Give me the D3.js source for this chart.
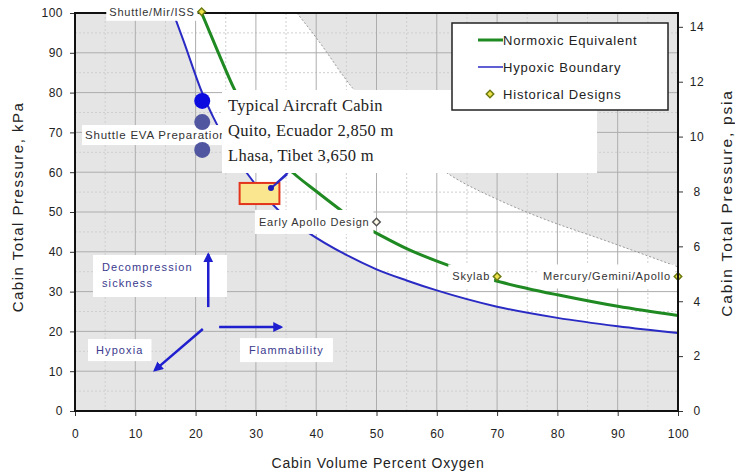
<!DOCTYPE html>
<html>
<head>
<meta charset="utf-8">
<script src="https://cdn.jsdelivr.net/npm/d3@7"></script>
<style>
  html, body { margin: 0; padding: 0; background: #fff; }
  svg { display: block; font-family: "Liberation Sans", Arial, sans-serif; }
</style>
</head>
<body>
<svg id="chart" width="735" height="475"></svg>
<script>
// Axis ticks
const o2Ticks = d3.range(0, 101, 10);
const kpaTicks = d3.range(0, 101, 10);
const psiTicks = d3.range(0, 15, 2);

// Normoxic equivalent curve (percent O2, kPa)
const normoxicO2  = [21, 23.5, 26.5, 30, 33, 36.2, 40, 43.6, 47, 50.6, 55, 61.7, 69.3, 75, 80, 90, 100];
const normoxicKPa = [100, 91, 80.6, 71, 64.5, 59.8, 55.2, 51, 47.2, 44.2, 40.8, 36.7, 32.9, 30.8, 29.2, 26.3, 24];

// Hypoxic boundary curve
const hypoxicO2  = [16.3, 18, 21.1, 22.9, 25.5, 28.5, 33.7, 38.5, 45, 50, 55, 60, 70, 80, 90, 100];
const hypoxicKPa = [100, 93, 79.9, 73.9, 66.5, 59.8, 50.5, 45, 39.2, 35.6, 32.8, 30.3, 26.2, 23.4, 21.3, 19.6];

// Flammability limit (edge of the upper-right shaded region)
const flammO2  = [36.8, 40, 46, 54, 62.2, 70, 77, 88, 100];
const flammKPa = [100, 93.8, 81.2, 69, 59.3, 53.2, 48.7, 42.8, 36.2];

// Historical spacecraft designs
const designNames = ["Shuttle/Mir/ISS", "Early Apollo Design", "Skylab", "Mercury/Gemini/Apollo"];
const designO2    = [21, 50, 70, 100];
const designKPa   = [100.3, 47.5, 33.8, 33.8];

// Shuttle EVA preparation atmospheres
const evaO2  = [21.1, 21.1, 21.1];
const evaKPa = [77.9, 72.6, 65.6];

// Exploration atmosphere design box and its point
const boxO2  = [27.3, 33.9];
const boxKPa = [52.0, 57.3];
const boxPointO2 = 32.5, boxPointKPa = 56.0;

const cabinLines = ["Typical Aircraft Cabin", "Quito, Ecuador 2,850 m", "Lhasa, Tibet 3,650 m"];

const KPA_PER_PSI = 6.894757;

const svg = d3.select("#chart");
const x = d3.scaleLinear().domain([0, 100]).range([75, 678]);
const y = d3.scaleLinear().domain([0, 100]).range([411, 13]);
const yPsi = d3.scaleLinear().domain([0, 100 / KPA_PER_PSI]).range([411, 13]);

const zip = (a, b) => a.map((v, i) => [v, b[i]]);
const line = d3.line().x(d => x(d[0])).y(d => y(d[1])).curve(d3.curveMonotoneX);

const defs = svg.append("defs");
defs.append("clipPath").attr("id", "plotClip")
  .append("rect").attr("x", x(0)).attr("y", y(100)).attr("width", x(100) - x(0)).attr("height", y(0) - y(100));
const plot = svg.append("g").attr("clip-path", "url(#plotClip)");

// Background and shaded regions
plot.append("rect").attr("x", x(0)).attr("y", y(100)).attr("width", x(100) - x(0)).attr("height", y(0) - y(100)).attr("fill", "#fff");

const hyp = zip(hypoxicO2, hypoxicKPa);
plot.append("path")
  .attr("d", line(hyp) + `L${x(100)},${y(0)}L${x(0)},${y(0)}L${x(0)},${y(100)}Z`)
  .attr("fill", "#e5e5e5");

const fl = zip(flammO2, flammKPa);
plot.append("path")
  .attr("d", line(fl) + `L${x(100)},${y(100)}Z`)
  .attr("fill", "#e5e5e5");

// Grid
const minor = d3.range(5, 100, 10);
plot.selectAll(".vminor").data(minor).join("line")
  .attr("x1", d => x(d)).attr("x2", d => x(d)).attr("y1", y(0)).attr("y2", y(100))
  .attr("stroke", "#cfcfcf").attr("stroke-width", 1).attr("stroke-dasharray", "2,2");
plot.selectAll(".hminor").data(minor).join("line")
  .attr("y1", d => y(d)).attr("y2", d => y(d)).attr("x1", x(0)).attr("x2", x(100))
  .attr("stroke", "#cfcfcf").attr("stroke-width", 1).attr("stroke-dasharray", "2,2");
plot.selectAll(".vmajor").data(o2Ticks).join("line")
  .attr("x1", d => x(d)).attr("x2", d => x(d)).attr("y1", y(0)).attr("y2", y(100))
  .attr("stroke", "#adadad").attr("stroke-width", 1);
plot.selectAll(".hmajor").data(kpaTicks).join("line")
  .attr("y1", d => y(d)).attr("y2", d => y(d)).attr("x1", x(0)).attr("x2", x(100))
  .attr("stroke", "#adadad").attr("stroke-width", 1);

// Flammability edge
plot.append("path").attr("d", line(fl)).attr("fill", "none")
  .attr("stroke", "#9a9a9a").attr("stroke-width", 1).attr("stroke-dasharray", "2,2");

// Curves
plot.append("path").attr("d", line(hyp)).attr("fill", "none")
  .attr("stroke", "#2a2ac4").attr("stroke-width", 2);
plot.append("path").attr("d", line(zip(normoxicO2, normoxicKPa))).attr("fill", "none")
  .attr("stroke", "#1f8a22").attr("stroke-width", 3);

// Design box with its point and leader
plot.append("line")
  .attr("x1", x(boxPointO2)).attr("y1", y(boxPointKPa)).attr("x2", x(37.5)).attr("y2", y(63))
  .attr("stroke", "#2a2ac4").attr("stroke-width", 2);
plot.append("rect")
  .attr("x", x(boxO2[0])).attr("y", y(boxKPa[1]))
  .attr("width", x(boxO2[1]) - x(boxO2[0])).attr("height", y(boxKPa[0]) - y(boxKPa[1]))
  .attr("fill", "#fbe690").attr("stroke", "#e2351c").attr("stroke-width", 2);
plot.append("line")
  .attr("x1", x(boxPointO2)).attr("y1", y(boxPointKPa)).attr("x2", x(35.2)).attr("y2", y(59.5))
  .attr("stroke", "#2a2ac4").attr("stroke-width", 2);
plot.append("circle").attr("cx", x(boxPointO2)).attr("cy", y(boxPointKPa)).attr("r", 3).attr("fill", "#1a1ab8");

// Label with white background
function label(g, text, px, py, anchor, opts) {
  const o = Object.assign({ size: 11, ls: 0.8, fill: "#333", padX: 4, padY: 12, weight: "normal" }, opts || {});
  const grp = g.append("g");
  const bg = grp.append("rect").attr("fill", "#fff");
  const t = grp.append("text").attr("x", px).attr("y", py).attr("dy", "0.35em")
    .attr("text-anchor", anchor).attr("font-size", o.size).attr("letter-spacing", o.ls)
    .attr("font-weight", o.weight).attr("fill", o.fill).text(text);
  const b = t.node().getBBox();
  bg.attr("x", b.x - o.padX).attr("y", py - o.padY).attr("width", b.width + 2 * o.padX).attr("height", 2 * o.padY);
  return grp;
}

const labels = svg.append("g");

// Shuttle EVA label sits under the dots and is cut by the cabin box
label(labels, "Shuttle EVA Preparation", 85, y(evaKPa[1]) + 13, "start", { padY: 10, padX: 3, size: 11.5 });

// Cabin reference text box
const cab = svg.append("g");
cab.append("rect").attr("x", 222).attr("y", 90).attr("width", 375).attr("height", 83).attr("fill", "#fff");
cab.selectAll("text").data(cabinLines).join("text")
  .attr("x", 228).attr("y", (d, i) => 111 + i * 25)
  .attr("font-family", "'Liberation Serif', 'Times New Roman', serif")
  .attr("font-size", 16.5).attr("letter-spacing", 0.3).attr("fill", "#222")
  .text(d => d);

// EVA points
svg.selectAll(".eva").data(zip(evaO2, evaKPa)).join("circle")
  .attr("cx", d => x(d[0])).attr("cy", d => y(d[1])).attr("r", 8)
  .attr("fill", (d, i) => i === 0 ? "#0b0be0" : "#50569f");

// Historical design labels and markers
const designs = designNames.map((n, i) => ({ name: n, o2: designO2[i], kpa: designKPa[i] }));
designs.slice(1).forEach(d => label(labels, d.name, x(d.o2) - 7, y(d.kpa), "end", { padY: 12 }));

const diamond = d3.symbol().type(d3.symbolSquare).size(28);
svg.selectAll(".design").data(designs.slice(1)).join("path")
  .attr("d", diamond)
  .attr("transform", d => `translate(${x(d.o2)},${y(d.kpa)}) rotate(45)`)
  .attr("fill", d => d.name === "Early Apollo Design" ? "#fffbe8" : "#eee04a")
  .attr("stroke", d => d.name === "Early Apollo Design" ? "#555" : "#6b7a10").attr("stroke-width", 1.5);

// Risk direction arrows
defs.append("marker").attr("id", "arrowHead").attr("viewBox", "0 0 10 10")
  .attr("refX", 8).attr("refY", 5).attr("markerWidth", 4).attr("markerHeight", 4)
  .attr("orient", "auto").attr("markerUnits", "strokeWidth")
  .append("path").attr("d", "M0,0 L10,5 L0,10 Z").attr("fill", "#1f1fd0");

const arrowLabelStyle = { size: 11, ls: 1.1, fill: "#3a3a8e" };
const dcs = svg.append("g");
dcs.append("rect").attr("x", 93).attr("y", 255).attr("width", 134).attr("height", 42).attr("fill", "#fff");
dcs.selectAll("text").data(["Decompression", "sickness"]).join("text")
  .attr("x", 102).attr("y", (d, i) => 271 + i * 16)
  .attr("font-size", 11).attr("letter-spacing", 1.1).attr("fill", "#3a3a8e").text(d => d);
label(svg, "Hypoxia", 96, y(15.3), "start", Object.assign({ padX: 8, padY: 11 }, arrowLabelStyle));
label(svg, "Flammability", 249, y(15.3), "start", Object.assign({ padX: 9, padY: 12 }, arrowLabelStyle));

const arrows = [
  [[22.1, 26.1], [22.1, 39.4]],
  [[23.9, 21.1], [34.2, 21.1]],
  [[21.2, 20.6], [13.2, 10.2]]
];
svg.selectAll(".arrow").data(arrows).join("line")
  .attr("x1", d => x(d[0][0])).attr("y1", d => y(d[0][1]))
  .attr("x2", d => x(d[1][0])).attr("y2", d => y(d[1][1]))
  .attr("stroke", "#1f1fd0").attr("stroke-width", 2.5).attr("marker-end", "url(#arrowHead)");

// Legend
const lg = svg.append("g");
lg.append("rect").attr("x", 452).attr("y", 23).attr("width", 216).attr("height", 87)
  .attr("fill", "#fff").attr("stroke", "#222").attr("stroke-width", 1.5);
const legendItems = [
  { label: "Normoxic Equivalent", type: "line", color: "#1f8a22", w: 3 },
  { label: "Hypoxic Boundary", type: "line", color: "#2a2ac4", w: 1.5 },
  { label: "Historical Designs", type: "diamond" }
];
legendItems.forEach((it, i) => {
  const cy = 40 + i * 27;
  if (it.type === "line") {
    lg.append("line").attr("x1", 478).attr("x2", 503).attr("y1", cy).attr("y2", cy)
      .attr("stroke", it.color).attr("stroke-width", it.w);
  } else {
    lg.append("path").attr("d", diamond).attr("transform", `translate(490,${cy}) rotate(45)`)
      .attr("fill", "#eee04a").attr("stroke", "#6b7a10").attr("stroke-width", 1.5);
  }
  lg.append("text").attr("x", 503).attr("y", cy).attr("dy", "0.35em")
    .attr("font-size", 13).attr("letter-spacing", 0.8).attr("fill", "#222").text(it.label);
});

// Axes
const axisStyle = g => {
  g.select(".domain").remove();
  g.selectAll(".tick line").attr("stroke", "#333");
  g.selectAll(".tick text").attr("font-size", 12).attr("letter-spacing", 0.5).attr("fill", "#222")
    .attr("font-family", "'Liberation Sans', Arial, sans-serif");
};
svg.append("g").attr("transform", `translate(${x(0)},0)`)
  .call(d3.axisLeft(y).tickValues(kpaTicks).tickSize(5).tickPadding(7)).call(axisStyle);
svg.append("g").attr("transform", `translate(0,${y(0)})`)
  .call(d3.axisBottom(x).tickValues(o2Ticks).tickSize(5).tickPadding(13)).call(axisStyle);
const ra = svg.append("g").attr("transform", `translate(${x(100)},0)`)
  .call(d3.axisRight(yPsi).tickValues(psiTicks).tickSize(5).tickPadding(7)).call(axisStyle);
ra.selectAll(".tick text").attr("text-anchor", "middle").attr("x", 19);

// Plot frame
svg.append("rect").attr("x", x(0)).attr("y", y(100)).attr("width", x(100) - x(0)).attr("height", y(0) - y(100))
  .attr("fill", "none").attr("stroke", "#111").attr("stroke-width", 2);

// Shuttle/Mir/ISS label covers the top frame, so it is drawn after it together with its marker
const topDesign = designs[0];
label(svg, topDesign.name, x(topDesign.o2) - 7, y(topDesign.kpa), "end", { padY: 9, padX: 3 });
svg.append("path").attr("d", diamond)
  .attr("transform", `translate(${x(topDesign.o2)},${y(topDesign.kpa)}) rotate(45)`)
  .attr("fill", "#eee04a").attr("stroke", "#6b7a10").attr("stroke-width", 1.5);

// Axis titles
svg.append("text").attr("x", 378).attr("y", 468).attr("text-anchor", "middle")
  .attr("font-size", 14).attr("letter-spacing", 0.8).attr("fill", "#222").text("Cabin Volume Percent Oxygen");
svg.append("text").attr("transform", "translate(23,207) rotate(-90)").attr("text-anchor", "middle")
  .attr("font-size", 15).attr("letter-spacing", 1.5).attr("fill", "#222").text("Cabin Total Pressure, kPa");
svg.append("text").attr("transform", "translate(732,203) rotate(-90)").attr("text-anchor", "middle")
  .attr("font-size", 15.5).attr("letter-spacing", 1.8).attr("fill", "#222").text("Cabin Total Pressure, psia");
</script>
</body>
</html>
